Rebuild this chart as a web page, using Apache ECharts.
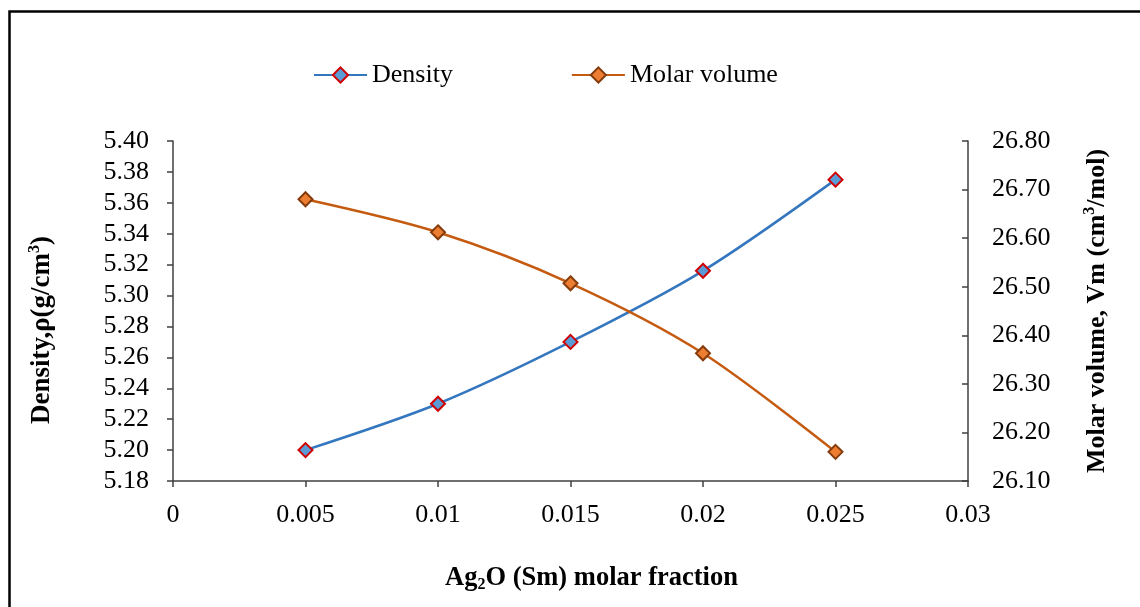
<!DOCTYPE html>
<html><head><meta charset="utf-8">
<script src="https://cdn.jsdelivr.net/npm/echarts@6/dist/echarts.min.js"></script>
<style>html,body{margin:0;padding:0;background:#fff}#c{width:1140px;height:607px}</style>
</head><body><div id="c"></div>
<script>
const xValues = [0.005, 0.01, 0.015, 0.02, 0.025];
const density = [5.200, 5.230, 5.270, 5.316, 5.375];
const molarVolume = [26.680, 26.612, 26.507, 26.363, 26.160];
const seriesNames = ['Density', 'Molar volume'];

const F = '"Liberation Serif","Times New Roman",serif';
const chart = echarts.init(document.getElementById('c'));
function rich(size) {
  return {
    b: {fontFamily: F, fontWeight: 'bold', fontSize: size, color: '#000', lineHeight: 30, verticalAlign: 'middle'},
    sup: {fontFamily: F, fontWeight: 'bold', fontSize: 16, color: '#000', lineHeight: 30, verticalAlign: 'top', padding: [0,0,12,0]},
    sub: {fontFamily: F, fontWeight: 'bold', fontSize: 16, color: '#000', lineHeight: 30, verticalAlign: 'bottom', padding: [9,0,0,0]}
  };
}
chart.setOption({
  animation: false,
  backgroundColor: '#fff',
  graphic: [{type: 'rect', shape: {x: 9.5, y: 11.5, width: 1300, height: 800}, style: {fill: 'none', stroke: '#000', lineWidth: 2.5}}],
  legend: {
    top: 57, left: 308, itemWidth: 53, itemHeight: 19, itemGap: 118,
    textStyle: {fontFamily: F, fontSize: 26, color: '#000'},
    data: seriesNames
  },
  grid: {left: 173, right: 172, top: 141, bottom: 126},
  xAxis: {
    type: 'value', min: 0, max: 0.03, interval: 0.005,
    name: '{b|Ag}{sub|2}{b|O (Sm) molar fraction}', nameLocation: 'middle', nameGap: 82,
    nameTextStyle: {rich: rich(26.5), padding: [0, 0, 0, 42]},
    axisLine: {lineStyle: {color: '#404040', width: 1.5}},
    axisTick: {lineStyle: {color: '#404040', width: 1.5}, length: 6},
    axisLabel: {fontFamily: F, fontSize: 26, color: '#000', margin: 21},
    splitLine: {show: false}
  },
  yAxis: [{
    type: 'value', min: 5.18, max: 5.40, interval: 0.02, position: 'left',
    name: '{b|Density,ρ(g/cm}{sup|3}{b|)}', nameLocation: 'middle', nameGap: 116, nameRotate: 90,
    nameTextStyle: {rich: rich(27), padding: [0, 38, 0, 0]},
    axisLine: {show: true, lineStyle: {color: '#404040', width: 1.5}},
    axisTick: {show: true, lineStyle: {color: '#404040', width: 1.5}, length: 6},
    axisLabel: {fontFamily: F, fontSize: 26, color: '#000', margin: 24, formatter: v => v.toFixed(2)},
    splitLine: {show: false}
  }, {
    type: 'value', min: 26.1, max: 26.8, interval: 0.1, position: 'right',
    name: '{b|Molar volume, Vm (cm}{sup|3}{b|/mol)}', nameLocation: 'middle', nameGap: 114, nameRotate: 90,
    nameTextStyle: {rich: rich(26)},
    axisLine: {show: true, lineStyle: {color: '#404040', width: 1.5}},
    axisTick: {show: true, inside: true, lineStyle: {color: '#404040', width: 1.5}, length: 6},
    axisLabel: {fontFamily: F, fontSize: 26, color: '#000', margin: 24, formatter: v => v.toFixed(2)},
    splitLine: {show: false}
  }],
  series: [{
    name: seriesNames[0], type: 'line', yAxisIndex: 0, smooth: 0.3,
    data: xValues.map((x, i) => [x, density[i]]),
    symbol: 'diamond', symbolSize: 14,
    lineStyle: {color: '#3577BE', width: 2.5},
    itemStyle: {color: '#5B9BD5', borderColor: '#D00000', borderWidth: 2}
  }, {
    name: seriesNames[1], type: 'line', yAxisIndex: 1, smooth: 0.3,
    data: xValues.map((x, i) => [x, molarVolume[i]]),
    symbol: 'diamond', symbolSize: 14,
    lineStyle: {color: '#C55A11', width: 2.5},
    itemStyle: {color: '#ED7D31', borderColor: '#843C0C', borderWidth: 2}
  }]
});
</script></body></html>
